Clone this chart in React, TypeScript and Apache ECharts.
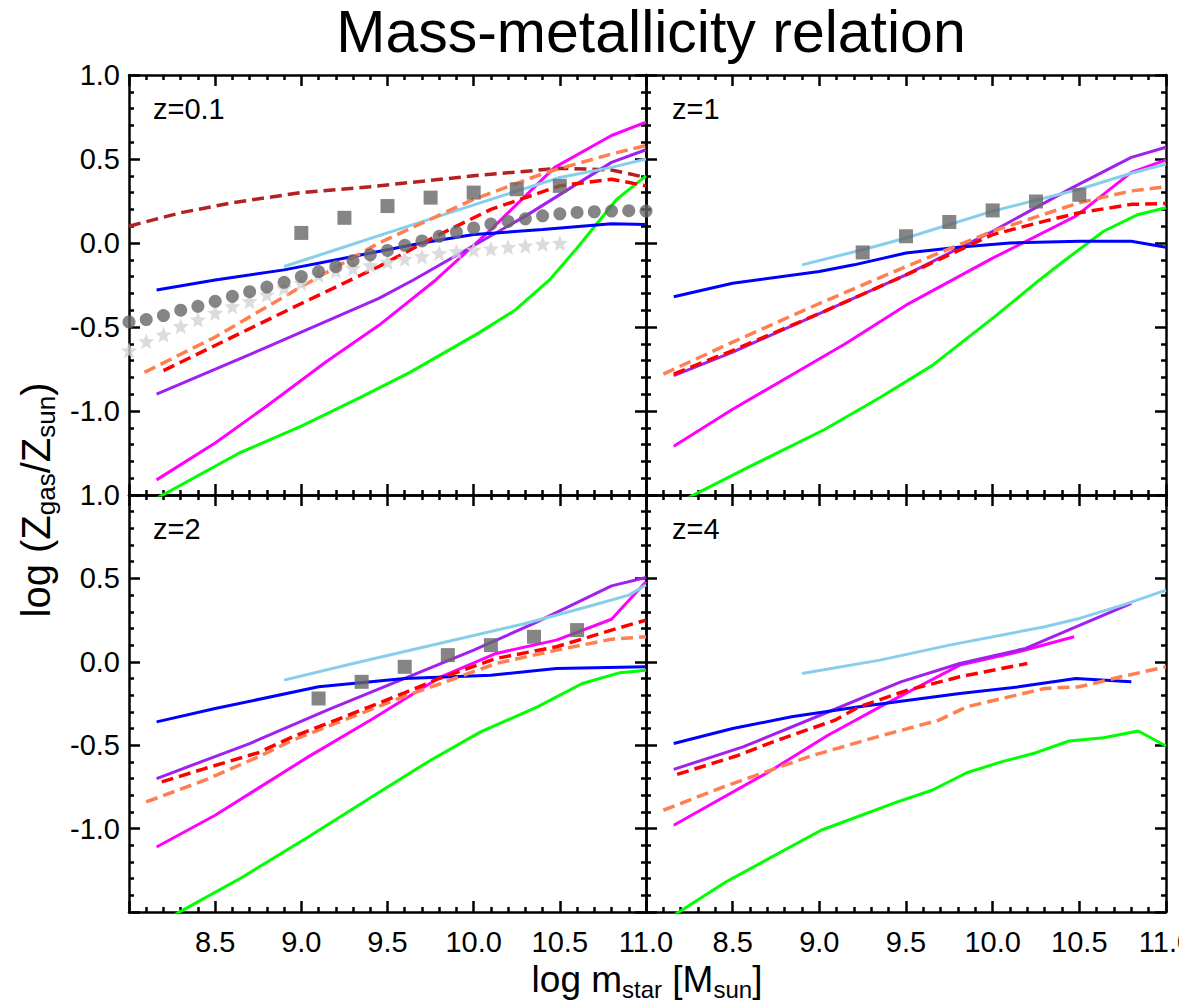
import React, { useEffect, useRef } from 'react';
import * as echarts from 'echarts';

const FONT = '"Liberation Sans", Arial, Helvetica, sans-serif';

// ---------- axis ranges ----------
const X_MIN = 8.0;
const X_MAX = 11.0;
const Y_MIN = -1.5;
const Y_MAX = 1.0;

// ---------- panel labels ----------
const PANEL_LABELS = ['z=0.1', 'z=1', 'z=2', 'z=4'];

// ---------- z = 0.1 ----------
const blue01 = [[8.16, -0.28], [8.5, -0.22], [8.9, -0.16], [9.3, -0.08], [9.7, 0.0], [10.0, 0.05], [10.4, 0.08], [10.8, 0.115], [11.0, 0.11]];
const lightblue01 = [[8.9, -0.14], [9.2, -0.04], [9.5, 0.06], [9.8, 0.16], [10.1, 0.26], [10.5, 0.39], [10.8, 0.45], [11.0, 0.5]];
const purple01 = [[8.16, -0.9], [8.8, -0.62], [9.45, -0.33], [9.65, -0.22], [10.3, 0.16], [10.8, 0.48], [11.0, 0.555]];
const magenta01 = [[8.16, -1.41], [8.5, -1.19], [8.8, -0.97], [9.14, -0.71], [9.45, -0.49], [9.78, -0.22], [10.1, 0.08], [10.47, 0.45], [10.8, 0.64], [11.0, 0.72]];
const green01 = [[8.16, -1.52], [8.64, -1.25], [9.0, -1.09], [9.34, -0.92], [9.63, -0.77], [10.03, -0.535], [10.24, -0.4], [10.44, -0.22], [10.6, -0.03], [10.83, 0.26], [11.0, 0.4]];
const red01 = [[8.2, -0.76], [8.5, -0.61], [9.0, -0.36], [9.45, -0.14], [9.8, 0.05], [10.1, 0.2], [10.5, 0.34], [10.8, 0.38], [11.0, 0.34]];
const coral01 = [[8.09, -0.77], [8.5, -0.56], [9.0, -0.26], [9.45, 0.0], [10.0, 0.26], [10.42, 0.42], [10.8, 0.53], [11.0, 0.58]];
const brown01 = [[8.0, 0.1], [8.3, 0.18], [8.6, 0.24], [9.0, 0.3], [9.4, 0.335], [10.0, 0.4], [10.5, 0.445], [10.8, 0.435], [11.0, 0.39]];
const squares01X = [9.0, 9.25, 9.5, 9.75, 10.0, 10.25, 10.5];
const squares01Y = [0.06, 0.15, 0.22, 0.27, 0.3, 0.32, 0.34];
const circles01X = [8.0, 8.1, 8.2, 8.3, 8.4, 8.5, 8.6, 8.7, 8.8, 8.9, 9.0, 9.1, 9.2, 9.3, 9.4, 9.5, 9.6, 9.7, 9.8, 9.9, 10.0, 10.1, 10.2, 10.3, 10.4, 10.5, 10.6, 10.7, 10.8, 10.9, 11.0];
const circles01Y = [-0.47, -0.456, -0.432, -0.4, -0.377, -0.347, -0.317, -0.29, -0.262, -0.234, -0.2, -0.17, -0.14, -0.105, -0.07, -0.044, -0.014, 0.012, 0.04, 0.065, 0.09, 0.113, 0.128, 0.144, 0.162, 0.174, 0.182, 0.186, 0.19, 0.192, 0.19];
const stars01X = [8.0, 8.1, 8.2, 8.3, 8.4, 8.5, 8.6, 8.7, 8.8, 8.9, 9.0, 9.1, 9.2, 9.3, 9.4, 9.5, 9.6, 9.7, 9.8, 9.9, 10.0, 10.1, 10.2, 10.3, 10.4, 10.5];
const stars01Y = [-0.64, -0.585, -0.545, -0.495, -0.456, -0.416, -0.377, -0.347, -0.307, -0.267, -0.238, -0.19, -0.165, -0.15, -0.133, -0.113, -0.095, -0.08, -0.06, -0.05, -0.04, -0.034, -0.024, -0.016, -0.006, 0.0];

// ---------- z = 1 ----------
const blue1 = [[8.16, -0.32], [8.5, -0.24], [9.0, -0.17], [9.2, -0.13], [9.5, -0.06], [9.8, -0.025], [10.1, 0.0], [10.5, 0.01], [10.8, 0.01], [11.0, -0.025]];
const lightblue1 = [[8.9, -0.13], [9.25, -0.04], [9.5, 0.03], [10.0, 0.19], [10.5, 0.32], [10.8, 0.415], [11.0, 0.47]];
const purple1 = [[8.16, -0.79], [8.5, -0.65], [9.0, -0.42], [9.5, -0.19], [10.0, 0.07], [10.46, 0.33], [10.8, 0.51], [11.0, 0.57]];
const magenta1 = [[8.16, -1.21], [8.5, -0.99], [9.15, -0.6], [9.5, -0.37], [9.75, -0.23], [10.0, -0.09], [10.48, 0.16], [10.8, 0.42], [11.0, 0.495]];
const green1 = [[8.16, -1.56], [8.6, -1.33], [9.03, -1.11], [9.35, -0.92], [9.65, -0.73], [10.01, -0.44], [10.27, -0.22], [10.42, -0.1], [10.64, 0.07], [10.84, 0.17], [11.0, 0.21]];
const red1 = [[8.16, -0.78], [8.5, -0.64], [9.0, -0.42], [9.5, -0.19], [10.0, 0.05], [10.3, 0.13], [10.5, 0.18], [10.8, 0.23], [11.0, 0.235]];
const coral1 = [[8.1, -0.78], [8.5, -0.59], [9.0, -0.36], [9.5, -0.14], [10.0, 0.07], [10.5, 0.24], [10.8, 0.31], [11.0, 0.335]];
const squares1X = [9.25, 9.5, 9.75, 10.0, 10.25, 10.5];
const squares1Y = [-0.056, 0.04, 0.125, 0.194, 0.247, 0.287];

// ---------- z = 2 ----------
const blue2 = [[8.16, -0.36], [8.5, -0.28], [9.1, -0.15], [9.6, -0.1], [10.1, -0.08], [10.48, -0.04], [11.0, -0.03]];
const lightblue2 = [[8.9, -0.11], [9.3, -0.01], [9.8, 0.11], [10.3, 0.23], [10.66, 0.33], [10.9, 0.4], [11.0, 0.46]];
const purple2 = [[8.16, -0.7], [8.7, -0.49], [9.15, -0.29], [9.6, -0.1], [10.0, 0.07], [10.35, 0.23], [10.8, 0.455], [11.0, 0.505]];
const magenta2 = [[8.16, -1.11], [8.5, -0.92], [9.04, -0.57], [9.4, -0.35], [9.81, -0.09], [10.13, 0.05], [10.48, 0.13], [10.8, 0.255], [11.0, 0.48]];
const green2 = [[8.16, -1.58], [8.31, -1.49], [8.66, -1.29], [9.04, -1.05], [9.44, -0.79], [9.75, -0.59], [10.04, -0.42], [10.37, -0.27], [10.63, -0.13], [10.85, -0.065], [11.0, -0.05]];
const red2 = [[8.19, -0.72], [8.44, -0.64], [8.75, -0.545], [8.95, -0.45], [9.2, -0.35], [9.59, -0.19], [9.8, -0.1], [10.13, 0.02], [10.48, 0.09], [10.8, 0.19], [11.0, 0.25]];
const coral2 = [[8.1, -0.84], [8.44, -0.71], [8.75, -0.57], [8.95, -0.47], [9.59, -0.21], [9.81, -0.13], [10.13, -0.01], [10.48, 0.07], [10.8, 0.135], [11.0, 0.15]];
const squares2X = [9.1, 9.35, 9.6, 9.85, 10.1, 10.35, 10.6];
const squares2Y = [-0.22, -0.12, -0.03, 0.04, 0.1, 0.15, 0.19];

// ---------- z = 4 ----------
const blue4 = [[8.16, -0.49], [8.5, -0.4], [8.84, -0.33], [9.23, -0.27], [9.81, -0.19], [10.15, -0.15], [10.48, -0.1], [10.8, -0.12]];
const lightblue4 = [[8.9, -0.07], [9.35, 0.01], [9.75, 0.1], [10.3, 0.21], [10.5, 0.26], [10.75, 0.34], [11.0, 0.43]];
const purple4 = [[8.16, -0.645], [8.56, -0.51], [9.03, -0.31], [9.47, -0.12], [9.81, -0.01], [10.19, 0.08], [10.48, 0.21], [10.8, 0.35]];
const magenta4 = [[8.16, -0.98], [8.7, -0.665], [9.05, -0.44], [9.35, -0.27], [9.81, -0.02], [10.15, 0.06], [10.47, 0.15]];
const green4 = [[8.16, -1.52], [8.46, -1.32], [9.01, -1.01], [9.45, -0.84], [9.65, -0.77], [9.85, -0.665], [10.05, -0.6], [10.25, -0.545], [10.44, -0.475], [10.64, -0.455], [10.84, -0.415], [11.0, -0.505]];
const red4 = [[8.18, -0.675], [8.52, -0.565], [8.76, -0.47], [9.09, -0.35], [9.23, -0.27], [9.51, -0.17], [9.81, -0.09], [10.2, -0.01]];
const coral4 = [[8.1, -0.89], [8.46, -0.745], [8.95, -0.565], [9.35, -0.445], [9.69, -0.35], [9.85, -0.27], [10.3, -0.16], [10.5, -0.15], [10.74, -0.09], [11.0, -0.03]];

// ---------- styles ----------
const COLORS = {
  blue: '#0000ff',
  lightblue: '#87ceeb',
  purple: '#a020f0',
  magenta: '#ff00ff',
  green: '#00ff00',
  red: '#ff0000',
  coral: '#ff7f50',
  brown: '#b22222',
  square: '#666666',
  circle: '#666666',
  star: '#d3d3d3',
};

const STAR_PATH = 'path://M0,-10 L2.6,-3.6 L9.5,-3.1 L4.2,1.4 L5.9,8.1 L0,4.5 L-5.9,8.1 L-4.2,1.4 L-9.5,-3.1 L-2.6,-3.6 Z';

const GRIDS = [
  { left: 129, top: 75, width: 517, height: 420 },
  { left: 646, top: 75, width: 520, height: 420 },
  { left: 129, top: 495, width: 517, height: 417 },
  { left: 646, top: 495, width: 520, height: 417 },
];

const zip = (xs: number[], ys: number[]) => xs.map((x, i) => [x, ys[i]]);

function buildOption() {
  const mkCommon = () => ({
    axisLine: { show: true, onZero: false, lineStyle: { color: '#000', width: 2.5 } },
    axisTick: { show: true, inside: true, length: 11, lineStyle: { color: '#000', width: 2.5 } },
    minorTick: { show: true, splitNumber: 5, length: 5, lineStyle: { color: '#000', width: 2.5 } },
    splitLine: { show: false },
    minorSplitLine: { show: false },
  });
  const labelStyle = { color: '#000', fontSize: 29, fontFamily: FONT };

  const xAxis: any[] = [];
  const yAxis: any[] = [];
  GRIDS.forEach((_, g) => {
    xAxis.push({
      type: 'value', gridIndex: g, min: X_MIN, max: X_MAX, interval: 0.5, position: 'bottom',
      ...mkCommon(),
      axisLabel: {
        show: g >= 2, margin: 15, ...labelStyle, showMinLabel: true, showMaxLabel: true, hideOverlap: false,
        formatter: (v: number) => (Math.abs(v - X_MIN) < 1e-6 ? '' : v.toFixed(1)),
      },
    });
    xAxis.push({
      type: 'value', gridIndex: g, min: X_MIN, max: X_MAX, interval: 0.5, position: 'top',
      ...mkCommon(), axisLabel: { show: false },
    });
    yAxis.push({
      type: 'value', gridIndex: g, min: Y_MIN, max: Y_MAX, interval: 0.5, position: 'left',
      ...mkCommon(),
      axisLabel: {
        show: g % 2 === 0, margin: 9, ...labelStyle, showMinLabel: true, showMaxLabel: true, hideOverlap: false,
        formatter: (v: number) => (Math.abs(v - Y_MIN) < 1e-6 ? '' : v.toFixed(1)),
      },
    });
    yAxis.push({
      type: 'value', gridIndex: g, min: Y_MIN, max: Y_MAX, interval: 0.5, position: 'right',
      ...mkCommon(), axisLabel: { show: false },
    });
  });

  const series: any[] = [];
  const line = (g: number, data: number[][], color: string, dashed: boolean) => {
    series.push({
      type: 'line', xAxisIndex: 2 * g, yAxisIndex: 2 * g, data,
      symbol: 'none', showSymbol: false, clip: true, silent: true, smooth: false,
      lineStyle: dashed ? { color, width: 3.5, type: [12, 6] } : { color, width: 3 },
      z: 2,
    });
  };
  const scatter = (g: number, data: number[][], symbol: string, size: number, color: string) => {
    series.push({
      type: 'scatter', xAxisIndex: 2 * g, yAxisIndex: 2 * g, data,
      symbol, symbolSize: size, itemStyle: { color }, silent: true, clip: true, z: 3,
    });
  };

  // z=0.1
  line(0, brown01, COLORS.brown, true);
  line(0, green01, COLORS.green, false);
  line(0, magenta01, COLORS.magenta, false);
  line(0, purple01, COLORS.purple, false);
  line(0, blue01, COLORS.blue, false);
  line(0, lightblue01, COLORS.lightblue, false);
  line(0, coral01, COLORS.coral, true);
  line(0, red01, COLORS.red, true);
  scatter(0, zip(stars01X, stars01Y), STAR_PATH, 16, COLORS.star);
  scatter(0, zip(circles01X, circles01Y), 'circle', 13, COLORS.circle);
  scatter(0, zip(squares01X, squares01Y), 'rect', 14, COLORS.square);

  // z=1
  line(1, green1, COLORS.green, false);
  line(1, magenta1, COLORS.magenta, false);
  line(1, purple1, COLORS.purple, false);
  line(1, blue1, COLORS.blue, false);
  line(1, lightblue1, COLORS.lightblue, false);
  line(1, coral1, COLORS.coral, true);
  line(1, red1, COLORS.red, true);
  scatter(1, zip(squares1X, squares1Y), 'rect', 14, COLORS.square);

  // z=2
  line(2, green2, COLORS.green, false);
  line(2, magenta2, COLORS.magenta, false);
  line(2, purple2, COLORS.purple, false);
  line(2, blue2, COLORS.blue, false);
  line(2, lightblue2, COLORS.lightblue, false);
  line(2, coral2, COLORS.coral, true);
  line(2, red2, COLORS.red, true);
  scatter(2, zip(squares2X, squares2Y), 'rect', 14, COLORS.square);

  // z=4
  line(3, green4, COLORS.green, false);
  line(3, magenta4, COLORS.magenta, false);
  line(3, purple4, COLORS.purple, false);
  line(3, blue4, COLORS.blue, false);
  line(3, lightblue4, COLORS.lightblue, false);
  line(3, coral4, COLORS.coral, true);
  line(3, red4, COLORS.red, true);

  const txt = (x: number, y: number, text: string, size: number, align: string) => ({
    type: 'text', x, y, silent: true, z: 10,
    style: {
      text, fill: '#000', fontSize: size, fontFamily: FONT,
      align, textAlign: align, verticalAlign: 'middle', textVerticalAlign: 'middle',
    },
  });

  const graphic: any[] = [
    txt(651, 32, 'Mass-metallicity relation', 59, 'center'),
    txt(GRIDS[0].left + 24, GRIDS[0].top + 34, PANEL_LABELS[0], 29, 'left'),
    txt(GRIDS[1].left + 26, GRIDS[1].top + 34, PANEL_LABELS[1], 29, 'left'),
    txt(GRIDS[2].left + 24, GRIDS[2].top + 34, PANEL_LABELS[2], 29, 'left'),
    txt(GRIDS[3].left + 26, GRIDS[3].top + 34, PANEL_LABELS[3], 29, 'left'),
    {
      type: 'text', x: 647, y: 979, silent: true, z: 10,
      style: {
        text: '{a|log m}{b|star}{a| [M}{b|sun}{a|]}',
        fill: '#000', fontFamily: FONT, fontSize: 37,
        align: 'center', textAlign: 'center', verticalAlign: 'middle', textVerticalAlign: 'middle',
        rich: {
          a: { fontSize: 37, fontFamily: FONT, lineHeight: 44, fill: '#000' },
          b: { fontSize: 24, fontFamily: FONT, lineHeight: 18, verticalAlign: 'bottom', fill: '#000' },
        },
      },
    },
    {
      type: 'text', x: 36, y: 500, rotation: Math.PI / 2, silent: true, z: 10,
      style: {
        text: '{a|log (Z}{b|gas}{a|/Z}{b|sun}{a|)}',
        fill: '#000', fontFamily: FONT, fontSize: 40,
        align: 'center', textAlign: 'center', verticalAlign: 'middle', textVerticalAlign: 'middle',
        rich: {
          a: { fontSize: 40, fontFamily: FONT, lineHeight: 46, fill: '#000' },
          b: { fontSize: 26, fontFamily: FONT, lineHeight: 19, verticalAlign: 'bottom', fill: '#000' },
        },
      },
    },
  ];

  return {
    animation: false,
    backgroundColor: '#ffffff',
    grid: GRIDS.map((g) => ({ ...g, containLabel: false, outerBoundsMode: 'none' })),
    xAxis,
    yAxis,
    series,
    graphic,
  };
}

export default function App() {
  const ref = useRef<HTMLDivElement>(null);
  useEffect(() => {
    document.body.style.margin = '0';
    document.body.style.overflow = 'hidden';
    const chart = echarts.init(ref.current!, null, { renderer: 'svg' });
    chart.setOption(buildOption() as any);
    return () => chart.dispose();
  }, []);
  return <div ref={ref} style={{ width: 1179, height: 1003 }} />;
}
